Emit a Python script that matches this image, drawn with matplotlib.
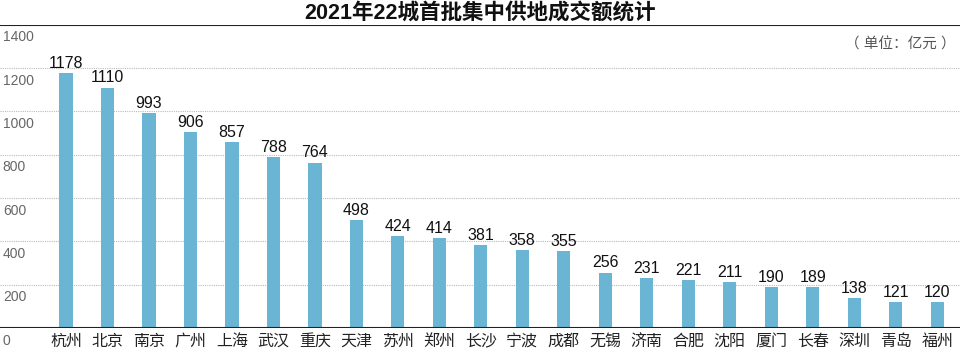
import numpy as np
import matplotlib.pyplot as plt

plt.rcParams['font.family'] = ['Liberation Sans', 'Noto Sans CJK SC', 'DejaVu Sans']

cities = ["杭州", "北京", "南京", "广州", "上海", "武汉", "重庆", "天津", "苏州", "郑州", "长沙",
          "宁波", "成都", "无锡", "济南", "合肥", "沈阳", "厦门", "长春", "深圳", "青岛", "福州"]
amounts = [1178, 1110, 993, 906, 857, 788, 764, 498, 424, 414, 381,
           358, 355, 256, 231, 221, 211, 190, 189, 138, 121, 120]
yticks = [0, 200, 400, 600, 800, 1000, 1200, 1400]

fig = plt.figure(figsize=(9.6, 3.51), dpi=100)
ax = fig.add_axes([0, 0.0655, 1, 0.864])

x = np.arange(len(cities))
ax.bar(x, amounts, width=0.32, color='#6ab4d4', zorder=2)
for xi, v in zip(x, amounts):
    ax.text(xi, v + 10, str(v), ha='center', va='bottom', fontsize=11.5, color='#111111')

ax.set_xlim(-1.59, 21.55)
ax.set_ylim(0, 1400)

# dotted gridlines, labels sit just below each line
for t in yticks[1:-1]:
    ax.axhline(t, color='#bbbbbb', linestyle=(0, (1, 1)), linewidth=0.8, zorder=1)
for t in yticks:
    ax.annotate(str(t), xy=(0, t), xycoords=('axes fraction', 'data'),
                xytext=(2, -4), textcoords='offset points', ha='left', va='top',
                fontsize=10, color='#666666')

ax.axhline(0, color='#222222', linewidth=1.5, zorder=3)
ax.axhline(1400, color='#222222', linewidth=1.5, zorder=3)

for xi, c in zip(x, cities):
    ax.annotate(c, xy=(xi, 0), xycoords='data', xytext=(0, -4), textcoords='offset points',
                ha='center', va='top', fontsize=11.5, color='#222222')

for s in ax.spines.values():
    s.set_visible(False)
ax.set_xticks([])
ax.set_yticks([])

fig.text(0.5, 0.963, "2021年22城首批集中供地成交额统计", ha='center', va='center',
         fontsize=15.5, fontweight='bold', color='#111111')
fig.text(0.995, 0.872, "（ 单位：亿元 ）", ha='right', va='center', fontsize=10.5, color='#555555')

fig.savefig('out.png', dpi=100)
